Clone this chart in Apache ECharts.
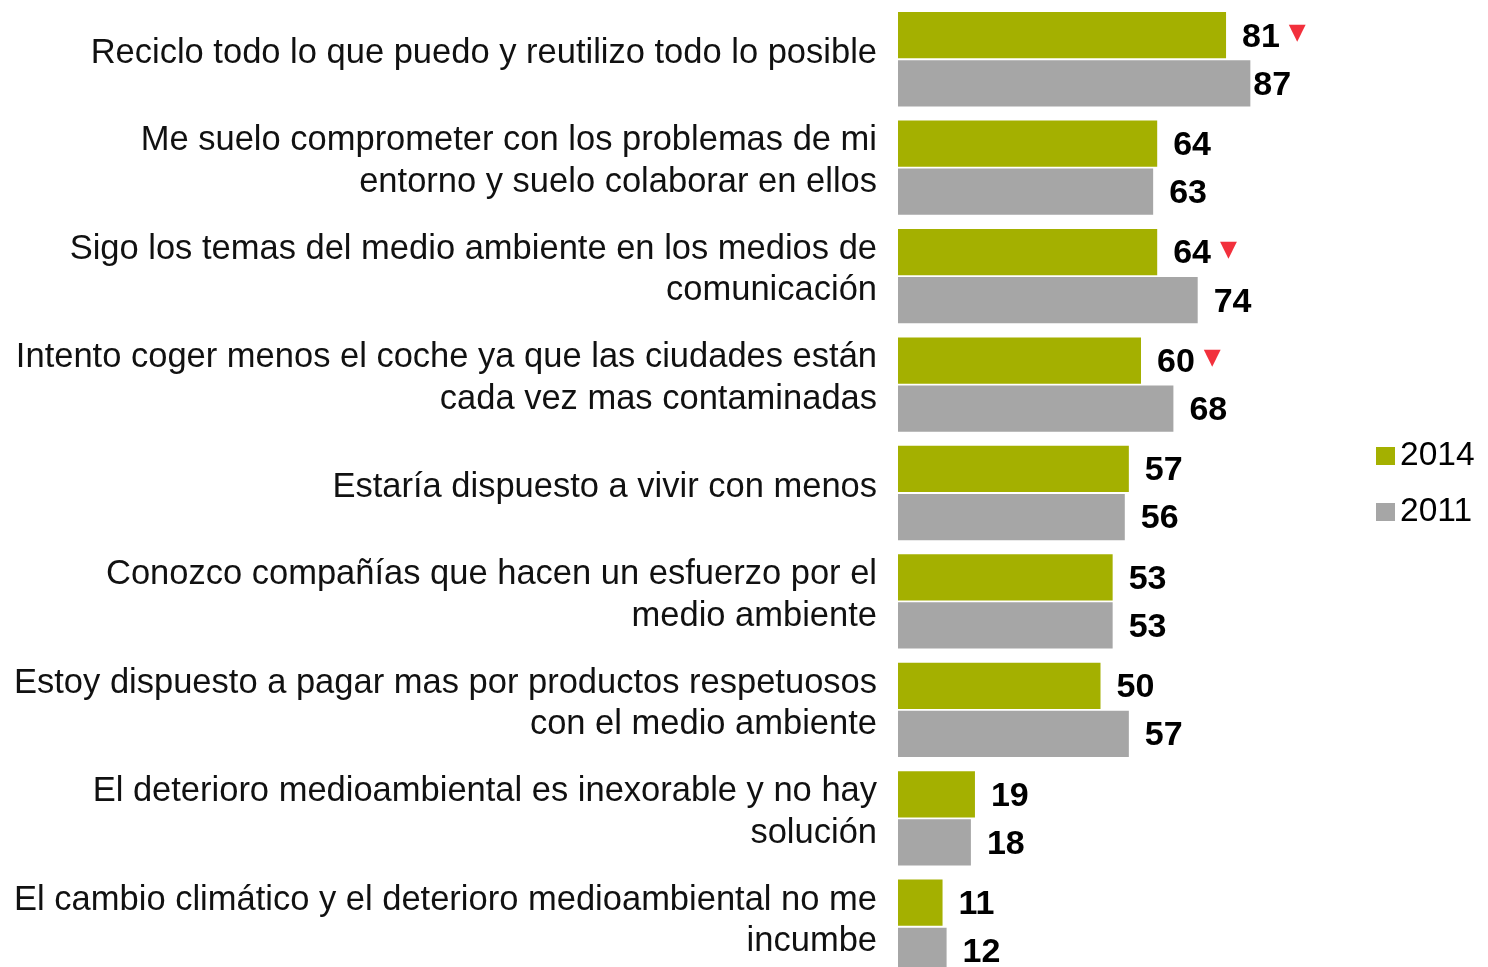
<!DOCTYPE html>
<html>
<head>
<meta charset="utf-8">
<script src="https://cdn.jsdelivr.net/npm/echarts@6/dist/echarts.min.js"></script>
<style>
  html, body { margin: 0; padding: 0; background: #fff; }
  #chart { width: 1488px; height: 967px; }
</style>
</head>
<body>
<div id="chart"></div>
<script>
const categories = [
  'Reciclo todo lo que puedo y reutilizo todo lo posible',
  'Me suelo comprometer con los problemas de mi\nentorno y suelo colaborar en ellos',
  'Sigo los temas del medio ambiente en los medios de\ncomunicación',
  'Intento coger menos el coche ya que las ciudades están\ncada vez mas contaminadas',
  'Estaría dispuesto a vivir con menos',
  'Conozco compañías que hacen un esfuerzo por el\nmedio ambiente',
  'Estoy dispuesto a pagar mas por productos respetuosos\ncon el medio ambiente',
  'El deterioro medioambiental es inexorable y no hay\nsolución',
  'El cambio climático y el deterioro medioambiental no me\nincumbe'
];
const values2014 = [81, 64, 64, 60, 57, 53, 50, 19, 11];
const values2011 = [87, 63, 74, 68, 56, 53, 57, 18, 12];
// significant drop vs 2011 (red triangle next to the 2014 value)
const dropFlags = [true, false, true, true, false, false, false, false, false];

const FONT = "'Liberation Sans', Arial, sans-serif";

const chart = echarts.init(document.getElementById('chart'));

function valueLabel() {
  return {
    show: true,
    position: 'right',
    distance: 16,
    offset: [0, 2],
    color: '#000',
    fontFamily: FONT,
    fontWeight: 'bold',
    fontSize: 34
  };
}

const option = {
  animation: false,
  backgroundColor: '#fff',
  legend: {
    orient: 'vertical',
    left: 1376,
    top: 439,
    padding: 0,
    itemWidth: 19,
    itemHeight: 18,
    itemGap: 22,
    icon: 'rect',
    textStyle: { fontFamily: FONT, fontSize: 33.5, color: '#000' },
    data: ['2014', '2011']
  },
  grid: {
    left: 898,
    top: 5,
    width: 405,
    height: 976,
    outerBoundsMode: 'none'
  },
  xAxis: {
    type: 'value',
    min: 0,
    max: 100,
    show: false
  },
  yAxis: {
    type: 'category',
    inverse: true,
    data: categories,
    axisLine: { show: false },
    axisTick: { show: false },
    axisLabel: {
      interval: 0,
      hideOverlap: false,
      showMinLabel: true,
      showMaxLabel: true,
      margin: 21,
      fontFamily: FONT,
      fontSize: 34.5,
      lineHeight: 41.5,
      color: '#111',
      align: 'right',
      // empty short line underneath lifts the text a few pixels, as in the reference
      formatter: function (v) { return v + '\n{s|}'; },
      rich: { s: { lineHeight: 12, fontSize: 10 } }
    }
  },
  series: [
    {
      name: '2014',
      type: 'bar',
      barGap: '4%',
      barCategoryGap: '13%',
      itemStyle: { color: '#a4b000' },
      label: Object.assign(valueLabel(), {
        formatter: function (p) {
          return dropFlags[p.dataIndex] ? p.value + '{gap|}{tri|▼}' : String(p.value);
        },
        rich: {
          gap: { width: 9 },
          tri: { fontSize: 22, color: '#f2303c', fontFamily: "'DejaVu Sans', sans-serif", padding: [0, 0, 8, 0] }
        }
      }),
      data: values2014
    },
    {
      name: '2011',
      type: 'bar',
      itemStyle: { color: '#a6a6a6' },
      label: valueLabel(),
      data: values2011.map(function (v, i) {
        return i === 0 ? { value: v, label: { distance: 3 } } : v;
      })
    }
  ]
};

chart.setOption(option);
</script>
</body>
</html>
